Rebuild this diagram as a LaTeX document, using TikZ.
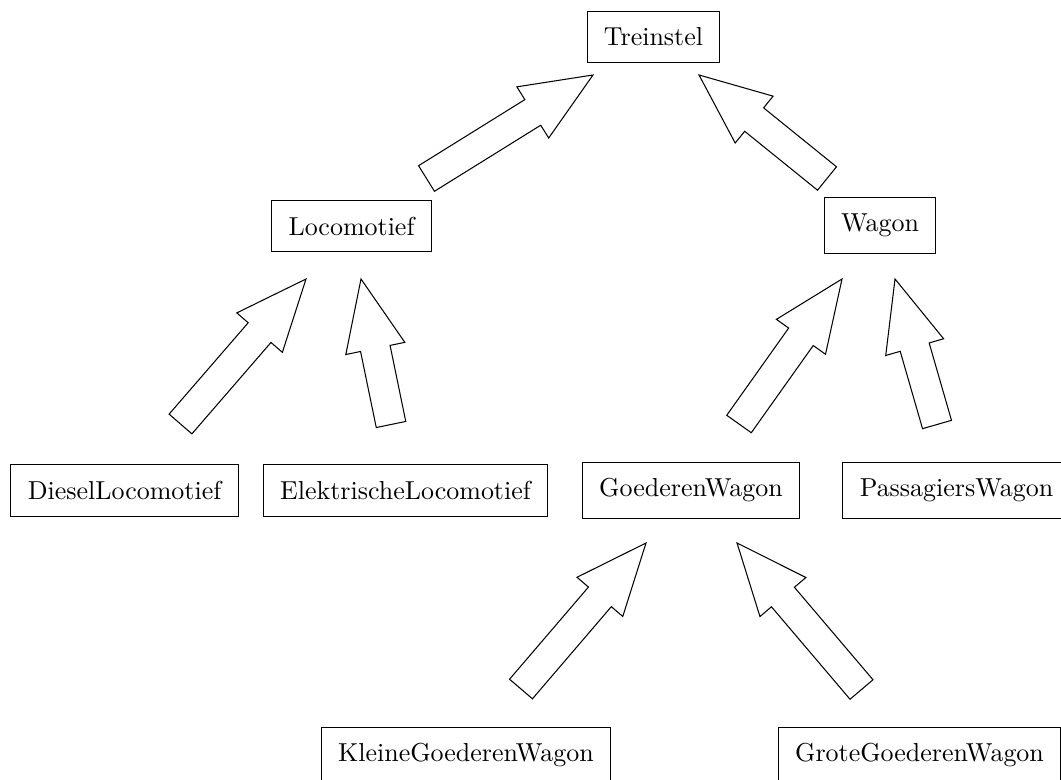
\documentclass[tikz,border=0pt]{standalone}
\usetikzlibrary{calc}
\tikzset{
  cls/.style={draw, inner xsep=6.5pt, inner ysep=6.3pt},
  arrowbody/.style={draw, line join=miter}
}
\newcommand\inharrow[2]{%
  \coordinate (hb) at ($(#2)!27.3pt!(#1)$);
  \draw[arrowbody] ($(#1)!5.8pt!90:(#2)$) -- ($(hb)!5.8pt!90:(#2)$) -- ($(hb)!11.6pt!90:(#2)$) -- (#2)
     -- ($(hb)!11.6pt!-90:(#2)$) -- ($(hb)!5.8pt!-90:(#2)$) -- ($(#1)!5.8pt!-90:(#2)$) -- cycle;
}
\begin{document}
\begin{tikzpicture}[x=0.385pt, y=-0.385pt]
\useasboundingbox (0,0) rectangle (1061,780);
\clip (0,0) rectangle (1061,780);
% nodes
\node[cls] (tr) at (653.5,37) {Treinstel};
\node[cls] (lo) at (351.5,226) {Locomotief};
\node[cls] (wa) at (880,225.5) {Wagon};
\node[cls] (di) at (124.5,490.5) {DieselLocomotief};
\node[cls] (el) at (405.5,490.5) {ElektrischeLocomotief};
\node[cls] (go) at (691,490.5) {GoederenWagon};
\node[cls] (pa) at (956.5,490.5) {PassagiersWagon};
\node[cls] (kl) at (466,755.5) {KleineGoederenWagon};
\node[cls] (gr) at (919.5,755.5) {GroteGoederenWagon};
% arrow ends
\coordinate (a1t) at (426.5,178.5); \coordinate (a1p) at (593,75);
\coordinate (a2t) at (827,178.5);   \coordinate (a2p) at (699,75);
\coordinate (a3t) at (180.5,424);   \coordinate (a3p) at (306,279);
\coordinate (a4t) at (391,424.5);   \coordinate (a4p) at (361,279);
\coordinate (a5t) at (739,424);     \coordinate (a5p) at (842,279);
\coordinate (a6t) at (937,424.5);   \coordinate (a6p) at (895,279);
\coordinate (a7t) at (521,689);     \coordinate (a7p) at (646,543);
\coordinate (a8t) at (861.5,689.5); \coordinate (a8p) at (737,543);
\inharrow{a1t}{a1p}
\inharrow{a2t}{a2p}
\inharrow{a3t}{a3p}
\inharrow{a4t}{a4p}
\inharrow{a5t}{a5p}
\inharrow{a6t}{a6p}
\inharrow{a7t}{a7p}
\inharrow{a8t}{a8p}
\end{tikzpicture}
\end{document}
